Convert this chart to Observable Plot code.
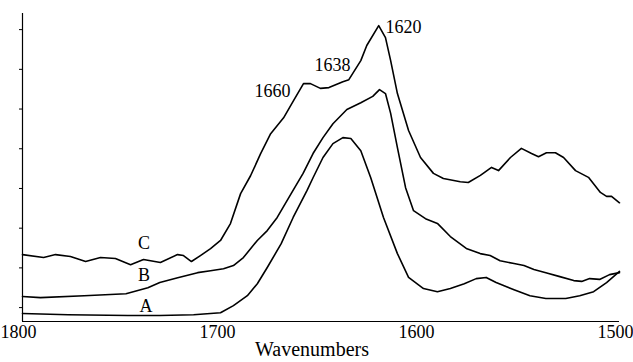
<!DOCTYPE html>
<html>
<head>
<meta charset="utf-8">
<script src="https://cdn.jsdelivr.net/npm/d3@7"></script>
<script src="https://cdn.jsdelivr.net/npm/@observablehq/plot@0.6"></script>
<style>
  html, body { margin: 0; padding: 0; background: #fff; }
  #chart { width: 633px; height: 362px; }
  #chart svg, #chart svg text { font-family: "Liberation Serif", "Times New Roman", serif !important; }
</style>
</head>
<body>
<div id="chart"></div>
<script>
// Wavenumber (cm-1) and absorbance readings for each spectrum
const wnA = [1800,1777,1747,1731,1714,1700.5,1694,1687,1682,1677,1670,1664,1657,1654,1649,1644,1639,1635,1630,1625,1618.6,1611.6,1606,1598.5,1591.5,1585,1578,1572,1567,1562,1553,1545,1537,1527,1520,1513,1506.5,1500];
const absA = [0.085,0.082,0.080,0.080,0.082,0.087,0.105,0.130,0.160,0.201,0.261,0.327,0.395,0.427,0.478,0.513,0.528,0.526,0.495,0.427,0.327,0.236,0.176,0.148,0.140,0.148,0.160,0.173,0.176,0.163,0.145,0.130,0.123,0.123,0.130,0.140,0.163,0.191];

const wnB = [1800,1791,1769,1748,1737,1731,1722,1712,1705.5,1699,1694,1689,1682,1677,1672,1665,1659,1654,1649,1644,1637,1630,1624,1620.6,1617.6,1615,1611.6,1607.5,1603.5,1597.5,1591.5,1585,1577,1570,1565,1560,1553,1548,1543,1537,1530,1523,1519,1515,1510,1505,1500];
const absB = [0.128,0.125,0.130,0.135,0.150,0.163,0.175,0.188,0.193,0.198,0.206,0.226,0.269,0.294,0.327,0.387,0.438,0.488,0.528,0.563,0.599,0.616,0.632,0.649,0.639,0.589,0.503,0.402,0.344,0.324,0.312,0.279,0.249,0.236,0.231,0.218,0.211,0.206,0.196,0.188,0.178,0.168,0.166,0.173,0.171,0.183,0.188];

const wnC = [1800,1789.4,1783.4,1775.9,1768.3,1760.8,1753.3,1745.7,1739.2,1730.7,1722.1,1719.1,1715.1,1710.6,1705.5,1700.5,1695.5,1690.4,1685.4,1680.4,1675.3,1668.8,1663.8,1658.8,1655.3,1650.3,1646,1639,1636,1630,1627,1621,1617.6,1615,1611.6,1606,1600,1593.5,1588.5,1580,1576,1569.9,1564.3,1560.8,1554.8,1549.3,1544.2,1540.7,1536.7,1532.2,1528.1,1522.1,1515.6,1509.6,1506.5,1504,1500];
const absC = [0.2335,0.226,0.2335,0.2285,0.216,0.226,0.2235,0.208,0.221,0.2135,0.2335,0.231,0.216,0.231,0.2485,0.269,0.3115,0.387,0.432,0.487,0.538,0.578,0.621,0.664,0.664,0.652,0.654,0.669,0.674,0.722,0.760,0.810,0.780,0.722,0.639,0.546,0.478,0.438,0.425,0.417,0.415,0.433,0.453,0.445,0.478,0.501,0.488,0.480,0.490,0.490,0.478,0.445,0.428,0.390,0.380,0.380,0.364];

// Curve letters
const letterText = ["C", "B", "A"];
const letterWn = [1739, 1739, 1738];
const letterAbs = [0.261, 0.181, 0.103];

// Peak annotations
const peakText = ["1660", "1638", "1620"];
const peakWn = [1665.3, 1635.2, 1617.6];
const peakAbs = [0.644, 0.710, 0.805];
const peakAnchor = ["end", "end", "start"];

const xTicks = [1800, 1700, 1600, 1500];
const yTicks = [0.1, 0.2, 0.3, 0.4, 0.5, 0.6, 0.7, 0.8];
const xDomain = [1800, 1500];
const yDomain = [0.065, 0.8406];
const xLabel = "Wavenumbers";

const toRows = (wn, ab) => wn.map((w, i) => ({wn: w, abs: ab[i]}));
const A = toRows(wnA, absA), B = toRows(wnB, absB), C = toRows(wnC, absC);
const letters = letterText.map((t, i) => ({t, wn: letterWn[i], abs: letterAbs[i]}));
const peaks = peakText.map((t, i) => ({t, wn: peakWn[i], abs: peakAbs[i], anchor: peakAnchor[i]}));

const font = "Liberation Serif";

const chart = Plot.plot({
  width: 633,
  height: 362,
  marginLeft: 22,
  marginRight: 14,
  marginTop: 13,
  marginBottom: 41,
  style: {fontFamily: font, background: "#fff", color: "#000"},
  x: {domain: xDomain},
  y: {domain: yDomain},
  marks: [
    Plot.axisX({ticks: xTicks, tickSize: 0, tickPadding: 4, dx: -4, fontSize: 18, fontFamily: font, label: null, tickFormat: d => String(d)}),
    Plot.axisY({ticks: yTicks, tickSize: 3, tickFormat: () => "", label: null}),
    Plot.ruleX([xDomain[0]], {stroke: "#000", strokeWidth: 1.2}),
    Plot.ruleY([yDomain[0]], {stroke: "#000", strokeWidth: 1.2}),
    Plot.line(A, {x: "wn", y: "abs", stroke: "#000", strokeWidth: 1.6, strokeLinejoin: "round"}),
    Plot.line(B, {x: "wn", y: "abs", stroke: "#000", strokeWidth: 1.6, strokeLinejoin: "round"}),
    Plot.line(C, {x: "wn", y: "abs", stroke: "#000", strokeWidth: 1.6, strokeLinejoin: "round"}),
    Plot.text(letters, {x: "wn", y: "abs", text: "t", fontSize: 18, fontFamily: font, fill: "#000"}),
    Plot.text(peaks.filter(p => p.anchor === "end"), {x: "wn", y: "abs", text: "t", fontSize: 18, fontFamily: font, fill: "#000", textAnchor: "end"}),
    Plot.text(peaks.filter(p => p.anchor === "start"), {x: "wn", y: "abs", text: "t", fontSize: 18, fontFamily: font, fill: "#000", textAnchor: "start"}),
    Plot.text([xLabel], {text: d => d, frameAnchor: "bottom", dy: 34, dx: -9, fontSize: 20, fontFamily: font, fill: "#000"})
  ]
});
document.getElementById("chart").appendChild(chart);
</script>
</body>
</html>
